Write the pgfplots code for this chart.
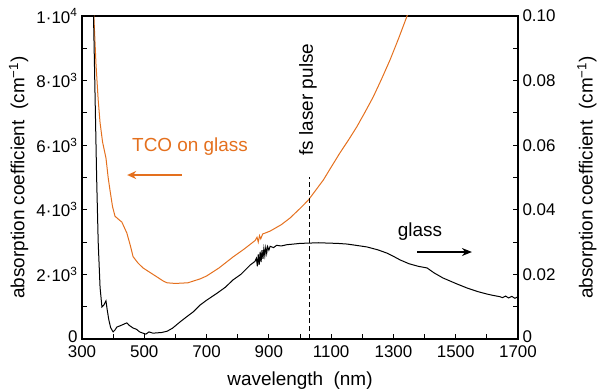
\documentclass[border=0pt]{standalone}
\usepackage{fontspec}
\setmainfont{Liberation Sans}
\usepackage{pgfplots}
\pgfplotsset{compat=1.18}
\usetikzlibrary{arrows.meta}
\definecolor{tco}{RGB}{228,112,30}
\begin{document}
\begin{tikzpicture}
\useasboundingbox (-82bp,-52bp) rectangle (518bp,339bp);
\begin{axis}[
  scale only axis, width=436bp, height=323bp,
  xmin=300, xmax=1700, ymin=0, ymax=10000,
  xtick={300,500,700,900,1100,1300,1500,1700},
  xticklabels={300,500,700,900,1100,1300,1500,1700},
  minor x tick num=1,
  ytick={0,2000,4000,6000,8000,10000},
  yticklabels={\raisebox{4bp}{0},2·10\textsuperscript{3},4·10\textsuperscript{3},6·10\textsuperscript{3},8·10\textsuperscript{3},1·10\textsuperscript{4}},
  minor y tick num=1,
  xtick pos=left, ytick pos=left,
  tick align=inside,
  major tick length=5bp, minor tick length=5bp,
  axis line style={line width=1.2bp},
  every tick/.style={black, line width=0.8bp},
  scaled y ticks=false,
  tick label style={font=\fontsize{17}{20}\selectfont},
  xticklabel style={yshift=-3bp},
  yticklabel style={xshift=-1bp},
  xlabel={wavelength\ \ (nm)},
  xlabel style={at={(axis description cs:0.5,-0.13)}, anchor=center, font=\fontsize{19}{22}\selectfont},
  ylabel={absorption coefficient\ \ (cm\textsuperscript{−1})},
  ylabel style={at={(axis description cs:-0.145,0.5)}, anchor=center, font=\fontsize{19}{22}\selectfont},
]
\addplot[tco, line width=1bp] coordinates {
(336,10500) (338,10000) (345,8500) (352,7400) (358,6700) (366,6100) (377,5600)
(384,5000) (390,4600) (398,4100) (406,3800) (418,3700) (428,3620) (436,3450)
(444,3280) (455,2900) (464,2550) (480,2350) (496,2200) (520,2050) (541,1920)
(560,1800) (573,1740) (600,1720) (640,1740) (679,1860) (700,1950) (740,2200)
(785,2540) (820,2780) (856,3050) (862,3150) (866,3000) (870,3200) (874,3100)
(880,3250) (904,3340) (940,3540) (968,3746) (1000,4040) (1027,4303) (1050,4600)
(1075,4923) (1100,5320) (1128,5759) (1155,6150) (1182,6563) (1208,7010)
(1235,7492) (1262,8050) (1289,8638) (1316,9290) (1343,9980) (1350,10200)
};
\draw[black, line width=0.9bp, dash pattern=on 5bp off 3bp] (1030,0) -- (1030,5000);
\node[tco, font=\fontsize{19}{22}\selectfont] at (647,5944) {TCO on glass};
\draw[tco, line width=1.5bp, -{Stealth[length=9bp,width=8bp]}] (621,5077) -- (445,5077);
\node[black, font=\fontsize{19}{22}\selectfont] at (1385,3313) {glass};
\draw[black, line width=1.2bp, -{Stealth[length=10bp,width=8bp]}] (1376,2693) -- (1552,2693);
\node[black, rotate=90, font=\fontsize{19}{22}\selectfont] at (1026,7414) {fs laser pulse};
\end{axis}
\begin{axis}[
  scale only axis, width=436bp, height=323bp,
  xmin=300, xmax=1700, ymin=0, ymax=0.1,
  axis x line=none, axis y line*=right,
  ytick={0,0.02,0.04,0.06,0.08,0.1},
  yticklabels={\raisebox{4bp}{0},0.02,0.04,0.06,0.08,0.10},
  minor y tick num=1,
  tick align=inside,
  major tick length=5bp, minor tick length=5bp,
  axis line style={line width=1.2bp},
  every tick/.style={black, line width=0.8bp},
  scaled y ticks=false,
  tick label style={font=\fontsize{17}{20}\selectfont},
  yticklabel style={xshift=1bp},
  ylabel={absorption coefficient\ \ (cm\textsuperscript{−1})},
  ylabel style={at={(axis description cs:1.158,0.5)}, anchor=center, font=\fontsize{19}{22}\selectfont},
]
\addplot[black, line width=1bp] coordinates {
(335,0.105) (337,0.10) (342,0.075) (347,0.05) (352,0.03) (358,0.016) (364,0.0099)
(370,0.0105) (377,0.0118) (381,0.009) (386,0.006) (392,0.0035) (400,0.0022)
(406,0.0028) (412,0.0037) (420,0.0040) (430,0.0044) (444,0.0050) (452,0.0042)
(464,0.0034) (475,0.0030) (485,0.0022) (496,0.0018) (505,0.0015) (515,0.0022)
(528,0.0018) (540,0.0019) (555,0.0020) (573,0.0024) (590,0.0033) (615,0.0053)
(635,0.0068) (657,0.0084) (679,0.0105) (700,0.0120) (734,0.0142) (760,0.0160)
(785,0.0183) (810,0.0200) (840,0.0229) (855,0.0240) (860,0.0250) (863,0.0225)
(866,0.0262) (869,0.0230) (872,0.0270) (875,0.0238) (878,0.0275) (881,0.0248)
(884,0.0280) (887,0.0258) (890,0.0283) (893,0.0265) (896,0.0286) (900,0.0275)
(904,0.0287) (915,0.0283) (925,0.0290) (940,0.0288) (958,0.0292) (980,0.0294)
(1000,0.0296) (1032,0.0297) (1060,0.0298) (1087,0.0297) (1120,0.0296)
(1151,0.0294) (1180,0.0290) (1215,0.0285) (1250,0.0276) (1279,0.0266)
(1300,0.0256) (1321,0.0245) (1350,0.0233) (1380,0.0225) (1408,0.0220)
(1430,0.0205) (1459,0.0189) (1500,0.0172) (1536,0.0158) (1570,0.0147)
(1601,0.0139) (1620,0.0135) (1642,0.0131) (1650,0.0128) (1660,0.0133)
(1670,0.0127) (1680,0.0132) (1690,0.0126) (1700,0.0131)
};
\end{axis}
\end{tikzpicture}
\end{document}
